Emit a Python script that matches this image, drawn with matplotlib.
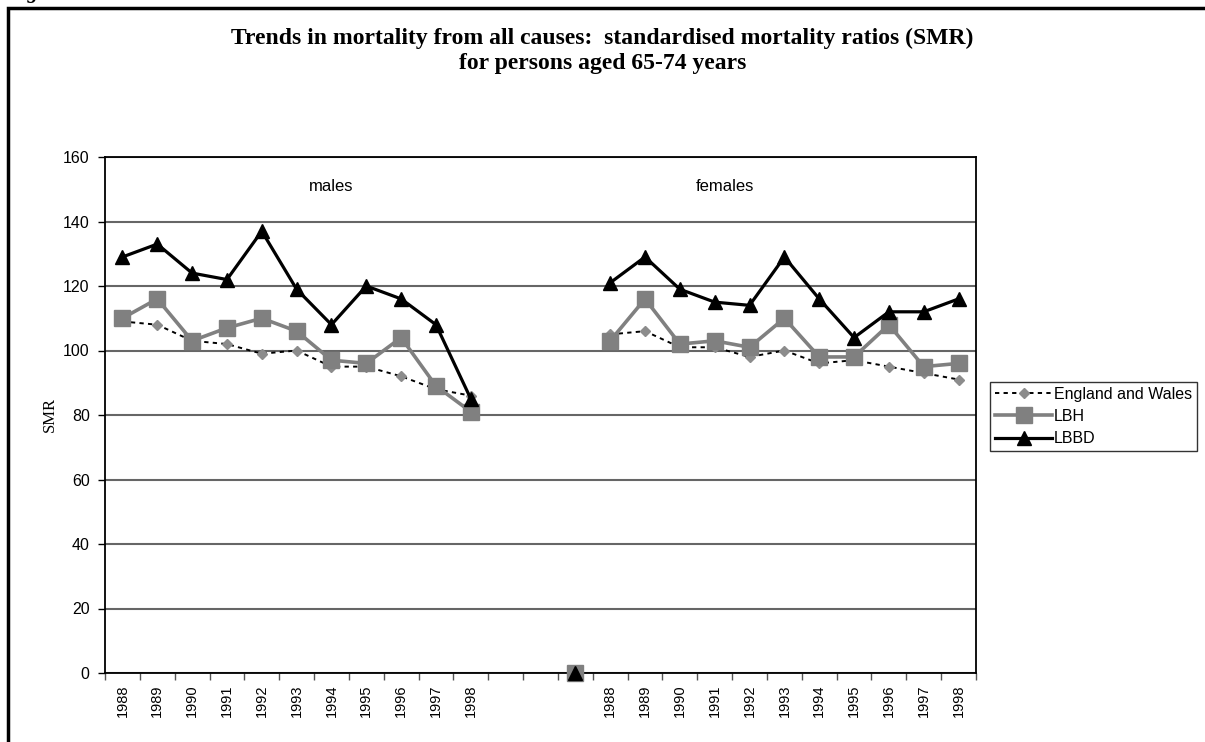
import matplotlib
matplotlib.use("Agg")
import matplotlib.pyplot as plt
from matplotlib.lines import Line2D
import numpy as np

years = ["1988", "1989", "1990", "1991", "1992", "1993", "1994", "1995", "1996", "1997", "1998"]
categories = years + ["", "", ""] + years

ew_males = [109, 108, 103, 102, 99, 100, 95, 95, 92, 88, 86]
ew_females = [105, 106, 101, 101, 98, 100, 96, 97, 95, 93, 91]
lbh_males = [110, 116, 103, 107, 110, 106, 97, 96, 104, 89, 81]
lbh_females = [103, 116, 102, 103, 101, 110, 98, 98, 108, 95, 96]
lbbd_males = [129, 133, 124, 122, 137, 119, 108, 120, 116, 108, 85]
lbbd_females = [121, 129, 119, 115, 114, 129, 116, 104, 112, 112, 116]
gap_value = [0]  # value plotted in the empty category between the groups

yticks = [0, 20, 40, 60, 80, 100, 120, 140, 160]

fig = plt.figure(figsize=(12.05, 7.42), dpi=100)
ax = fig.add_axes([105/1205, 1-673/742, (976-105)/1205, (673-157)/742])

n = len(categories)
x_m = np.arange(len(years))
x_gap = np.array([len(years) + 2])
x_f = np.arange(len(years) + 3, n)

ew_style = dict(color="black", lw=1.4, ls=(0, (2.2, 2.2)), marker="D", ms=5,
                mfc="#8c8c8c", mec="#8c8c8c", zorder=3)
lbh_style = dict(color="#808080", lw=2.6, marker="s", ms=11, mfc="#808080", mec="#808080", zorder=4)
lbbd_style = dict(color="black", lw=2.3, marker="^", ms=10.5, mfc="black", mec="black", zorder=5)

for xs, e, h, b in [(x_m, ew_males, lbh_males, lbbd_males), (x_f, ew_females, lbh_females, lbbd_females)]:
    ax.plot(xs, e, **ew_style)
    ax.plot(xs, h, **lbh_style)
    ax.plot(xs, b, **lbbd_style)
ax.plot(x_gap, gap_value, clip_on=False, **lbh_style)
ax.plot(x_gap, gap_value, clip_on=False, **lbbd_style)

ax.set_xlim(-0.5, n - 0.5)
ax.set_ylim(0, 160)
ax.set_yticks(yticks)
ax.set_yticklabels([str(v) for v in yticks], fontsize=11.5, family="Liberation Sans")
ax.yaxis.grid(True, color="#666666", lw=1.5)
ax.set_axisbelow(True)

ax.set_xticks(np.arange(n))
ax.set_xticklabels(categories, rotation=90, fontsize=10.5, family="Liberation Sans")
ax.set_xticks(np.arange(n + 1) - 0.5, minor=True)
ax.tick_params(axis="x", which="major", length=0, pad=8)
ax.tick_params(axis="x", which="minor", length=5, width=1, color="#555555", direction="out")
ax.tick_params(axis="y", length=5, width=1, direction="out", pad=6)
for s in ax.spines.values():
    s.set_linewidth(1.3)
    s.set_color("black")

ax.set_ylabel("SMR", family="Liberation Serif", fontsize=12, labelpad=4)

ax.text(6.0, 151, "males", ha="center", va="center", fontsize=12, family="Liberation Sans")
ax.text(17.3, 151, "females", ha="center", va="center", fontsize=12, family="Liberation Sans")

fig.text(0.5, 1-38/742, "Trends in mortality from all causes:  standardised mortality ratios (SMR)",
         ha="center", va="center", fontsize=17, fontweight="bold", family="Liberation Serif")
fig.text(0.5, 1-64/742, "for persons aged 65-74 years",
         ha="center", va="center", fontsize=17, fontweight="bold", family="Liberation Serif")

# partially visible figure caption above the frame
fig.text(8/1205, 1.0 + 2/742, "Figure", ha="left", va="baseline", fontsize=15,
         fontweight="bold", fontstyle="italic", family="Liberation Serif")

# outer frame
frame = plt.Rectangle((8/1205, -0.05), 1.2, 1 - 8/742 + 0.05, transform=fig.transFigure,
                      fill=False, lw=2.5, edgecolor="black", clip_on=False)
fig.add_artist(frame)

handles = [Line2D([], [], **ew_style), Line2D([], [], **lbh_style), Line2D([], [], **lbbd_style)]
leg = fig.legend(handles, ["England and Wales", "LBH", "LBBD"],
                 loc="upper left", bbox_to_anchor=(990/1205, 1-382/742),
                 prop={"family": "Liberation Sans", "size": 11.5},
                 frameon=True, fancybox=False, edgecolor="black", borderpad=0.3,
                 handlelength=3.6, handletextpad=0.1, labelspacing=0.45, borderaxespad=0)
leg.get_frame().set_linewidth(1.0)

fig.savefig("out.png", dpi=100)
